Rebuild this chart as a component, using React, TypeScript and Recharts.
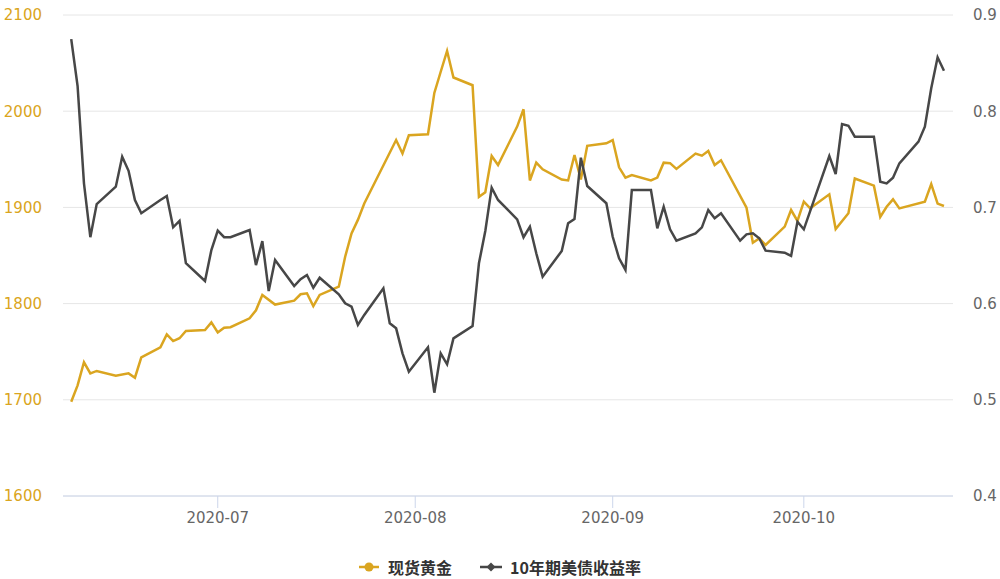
import React from "react";
import { CartesianGrid, Legend, Line, LineChart, XAxis, YAxis } from "recharts";

// trading days, Jun 8 – Oct 23 2020
const dates = [
  "2020-06-08", "2020-06-09", "2020-06-10", "2020-06-11", "2020-06-12",
  "2020-06-15", "2020-06-16", "2020-06-17", "2020-06-18", "2020-06-19",
  "2020-06-22", "2020-06-23", "2020-06-24", "2020-06-25", "2020-06-26",
  "2020-06-29", "2020-06-30", "2020-07-01", "2020-07-02", "2020-07-03",
  "2020-07-06", "2020-07-07", "2020-07-08", "2020-07-09", "2020-07-10",
  "2020-07-13", "2020-07-14", "2020-07-15", "2020-07-16", "2020-07-17",
  "2020-07-20", "2020-07-21", "2020-07-22", "2020-07-23", "2020-07-24",
  "2020-07-27", "2020-07-28", "2020-07-29", "2020-07-30", "2020-07-31",
  "2020-08-03", "2020-08-04", "2020-08-05", "2020-08-06", "2020-08-07",
  "2020-08-10", "2020-08-11", "2020-08-12", "2020-08-13", "2020-08-14",
  "2020-08-17", "2020-08-18", "2020-08-19", "2020-08-20", "2020-08-21",
  "2020-08-24", "2020-08-25", "2020-08-26", "2020-08-27", "2020-08-28",
  "2020-08-31", "2020-09-01", "2020-09-02", "2020-09-03", "2020-09-04",
  "2020-09-07", "2020-09-08", "2020-09-09", "2020-09-10", "2020-09-11",
  "2020-09-14", "2020-09-15", "2020-09-16", "2020-09-17", "2020-09-18",
  "2020-09-21", "2020-09-22", "2020-09-23", "2020-09-24", "2020-09-25",
  "2020-09-28", "2020-09-29", "2020-09-30", "2020-10-01", "2020-10-02",
  "2020-10-05", "2020-10-06", "2020-10-07", "2020-10-08", "2020-10-09",
  "2020-10-12", "2020-10-13", "2020-10-14", "2020-10-15", "2020-10-16",
  "2020-10-19", "2020-10-20", "2020-10-21", "2020-10-22", "2020-10-23",
];

// 现货黄金 (left axis)
const gold = [
  1698, 1715, 1739, 1727.5, 1730,
  1725, null, 1727.5, 1723, 1744,
  1754.5, 1768, 1761, 1764, 1771.5,
  1772.5, 1780.5, 1770, 1775, 1775.5,
  1784.7, 1793, 1809, null, 1799,
  1803, 1809.7, 1810.7, 1797.5, 1809,
  1817.6, 1848.7, 1873, 1887, 1904,
  null, null, 1970, 1956, 1975,
  1976, 2019, 2041, 2062.6, 2035,
  2027, 1911, 1915.7, 1953.4, 1944,
  1984, 2002, 1928, 1946.5, 1939.6,
  1929, 1928, 1954.5, 1929, 1964,
  1966.6, 1970, 1941.7, 1931, 1933.7,
  1928, 1931, 1946.5, 1946, 1940,
  1956, 1953.8, 1958.6, 1944, 1949,
  null, 1899.7, 1863.3, 1867.7, 1861,
  1880, 1897.3, 1886, 1906, 1899,
  1913.6, 1877.5, null, 1894, 1930,
  1922.6, 1890, 1900.7, 1908.4, 1899,
  null, 1906, 1924.3, 1904, 1901.5,
];

// 10年期美债收益率 (right axis)
const yieldRate = [
  0.875, 0.826, 0.725, 0.669, 0.7035,
  0.7215, 0.7527, 0.738, 0.7077, 0.694,
  0.7077, 0.7118, 0.6793, 0.6859, 0.642,
  0.6235, 0.6557, 0.6758, 0.669, 0.669,
  0.6765, 0.64, 0.665, 0.613, 0.6453,
  0.6183, 0.6253, 0.6297, 0.6165, 0.6269,
  0.6097, 0.6003, 0.5968, 0.5778, 0.5882,
  0.6159, 0.5795, 0.5743, 0.5483, 0.5292,
  0.5546, 0.5074, 0.5483, 0.5369, 0.5639,
  0.5767, 0.6419, 0.6755, 0.7205, 0.7077,
  0.6876, 0.669, 0.68, 0.6523, 0.628,
  0.6547, 0.6835, 0.688, 0.7517, 0.7222,
  0.7043, 0.6695, 0.647, 0.635, 0.718,
  0.718, 0.6783, 0.7007, 0.6772, 0.6654,
  0.673, 0.6793, 0.6973, 0.6887, 0.6939,
  0.6654, 0.672, 0.673, 0.6679, 0.655,
  0.6529, 0.6495, 0.6851, 0.6772, null,
  0.7534, 0.7347, 0.7867, 0.7849, 0.7735,
  0.7735, 0.7267, 0.725, 0.7309, 0.7458,
  0.7683, 0.7839, 0.8238, 0.856, 0.8421,
];

const goldTicks = [1600, 1700, 1800, 1900, 2000, 2100];
const yieldTicks = [0.4, 0.5, 0.6, 0.7, 0.8, 0.9];
const monthTicks = ["2020-07-01", "2020-08-01", "2020-09-01", "2020-10-01"];

const GOLD = "#DAA520";
const DARK = "#474747";
const toTime = (d: string) => {
  const [y, m, day] = d.split("-").map(Number);
  return Date.UTC(y, m - 1, day);
};

const data = dates.map((d, i) => ({
  t: toTime(d),
  gold: gold[i],
  yield: yieldRate[i],
}));

const xDomain = [Date.UTC(2020, 5, 6, 17), Date.UTC(2020, 9, 24, 10)];

const tickFont = { fontFamily: "DejaVu Sans", fontSize: 15 };

function LegendContent() {
  const label: React.CSSProperties = {
    fontFamily: "'Noto Sans CJK SC', sans-serif",
    fontWeight: 700,
    fontSize: 16,
    color: "#333",
  };
  return (
    <div style={{ display: "flex", justifyContent: "center", alignItems: "center" }}>
      <svg width={20} height={12} style={{ marginRight: 9 }}>
        <line x1={0} y1={6} x2={20} y2={6} stroke={GOLD} strokeWidth={2.5} />
        <circle cx={10} cy={6} r={4.5} fill={GOLD} />
      </svg>
      <span style={label}>现货黄金</span>
      <svg width={22} height={12} style={{ marginLeft: 28, marginRight: 8 }}>
        <line x1={0} y1={6} x2={22} y2={6} stroke={DARK} strokeWidth={2.5} />
        <path d="M11 1.5 L15.5 6 L11 10.5 L6.5 6 Z" fill={DARK} />
      </svg>
      <span style={label}>10年期美债收益率</span>
    </div>
  );
}

export default function App() {
  return (
    <div style={{ position: "absolute", left: 0, top: 0, width: 1000, height: 579, background: "#fff" }}>
      <LineChart width={1000} height={579} data={data} margin={{ top: 15, right: 0, bottom: 53, left: 0 }}>
        <CartesianGrid yAxisId="left" vertical={false} stroke="#e6e6e6" strokeWidth={1} />
        <XAxis
          dataKey="t"
          type="number"
          scale="time"
          domain={xDomain}
          ticks={monthTicks.map(toTime)}
          tickFormatter={(v) => {
            const d = new Date(v);
            return `${d.getUTCFullYear()}-${String(d.getUTCMonth() + 1).padStart(2, "0")}`;
          }}
          height={30}
          stroke="#ccd6eb"
          tickSize={12}
          tickMargin={4}
          tick={{ ...tickFont, fill: "#666" }}
          allowDataOverflow
        />
        <YAxis
          yAxisId="left"
          orientation="left"
          width={63}
          domain={[1600, 2100]}
          ticks={goldTicks}
          axisLine={false}
          tickLine={false}
          tickSize={0}
          tickMargin={21}
          tick={{ ...tickFont, fill: GOLD }}
        />
        <YAxis
          yAxisId="right"
          orientation="right"
          width={47}
          domain={[0.4, 0.9]}
          ticks={yieldTicks}
          tickFormatter={(v) => v.toFixed(1)}
          axisLine={false}
          tickLine={false}
          tickSize={0}
          tickMargin={20}
          tick={{ ...tickFont, fill: "#666" }}
        />
        <Legend
          layout="horizontal"
          verticalAlign="middle"
          align="center"
          wrapperStyle={{ top: 555, left: 0, width: 1000 }}
          content={() => <LegendContent />}
        />
        <Line
          yAxisId="left"
          type="linear"
          dataKey="gold"
          name="现货黄金"
          stroke={GOLD}
          strokeWidth={2.5}
          dot={false}
          connectNulls
          isAnimationActive={false}
        />
        <Line
          yAxisId="right"
          type="linear"
          dataKey="yield"
          name="10年期美债收益率"
          stroke={DARK}
          strokeWidth={2.5}
          dot={false}
          connectNulls
          isAnimationActive={false}
        />
      </LineChart>
    </div>
  );
}
